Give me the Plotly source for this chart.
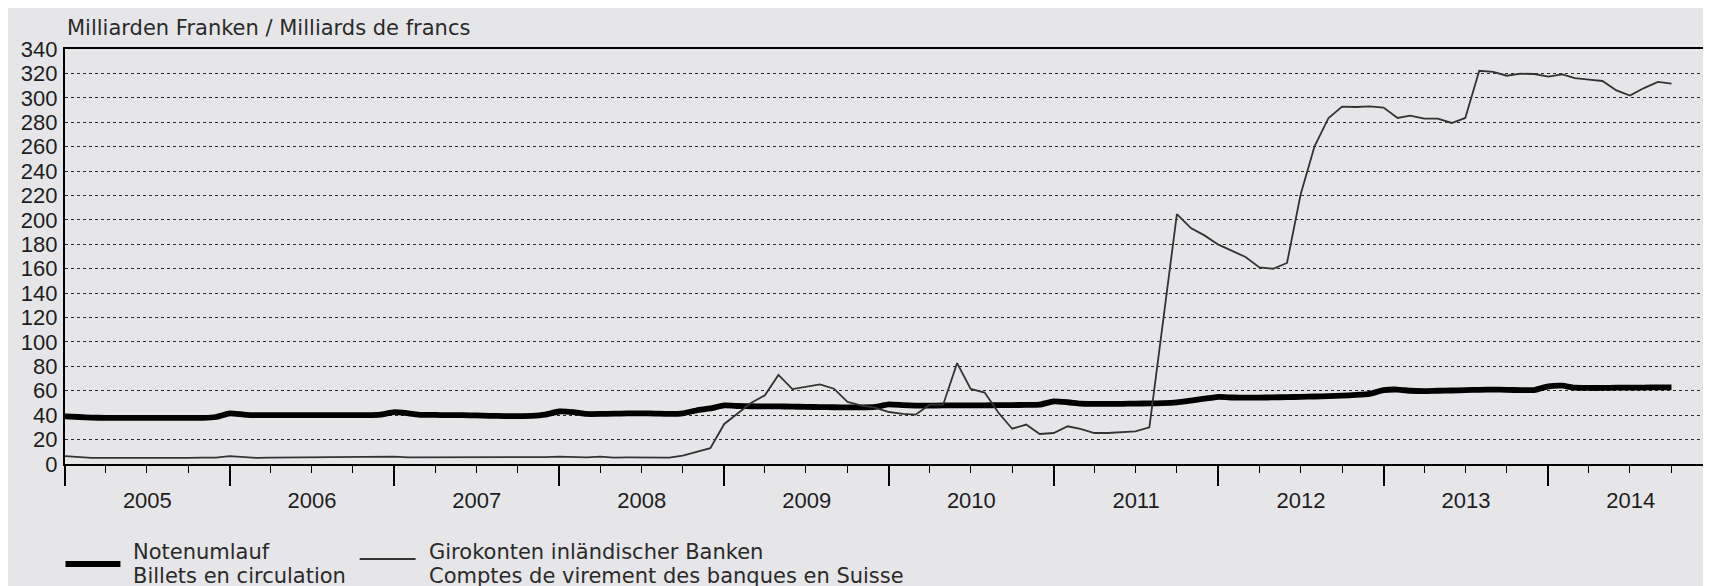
import pandas as pd
import plotly.graph_objects as go

# Monthly observations, Dec 2004 .. Sep 2014 (plotted at month end)
start_month = "2005-01-01"

notenumlauf = [
    39.0, 38.5, 38.0, 37.8, 37.8, 37.8, 37.8, 37.8, 37.8, 37.8, 37.8, 38.5,
    41.5, 40.5, 40.0, 40.0, 40.0, 40.0, 40.0, 40.0, 40.0, 40.0, 40.0, 40.5,
    42.5, 41.5, 40.3, 40.2, 40.0, 40.0, 39.8, 39.5, 39.3, 39.3, 39.5, 40.5,
    43.0, 42.5, 41.0, 41.0, 41.2, 41.4, 41.5, 41.3, 41.0, 41.5, 44.0, 45.5,
    48.0, 47.5, 47.3, 47.2, 47.2, 47.0, 46.8, 46.6, 46.5, 46.4, 46.4, 46.8,
    48.8, 48.2, 47.8, 47.8, 48.0, 48.1, 48.1, 48.1, 48.2, 48.3, 48.4, 48.6,
    51.3, 50.6, 49.5, 49.3, 49.2, 49.3, 49.5, 49.6, 49.8, 50.5, 52.0, 53.5,
    55.0, 54.5, 54.3, 54.4, 54.6, 54.8, 55.0, 55.3, 55.6, 56.0, 56.6, 57.5,
    60.5, 61.0, 60.0, 59.7, 60.0, 60.2, 60.5, 60.8, 61.0, 60.8, 60.5, 60.6,
    63.6, 64.2, 62.5, 62.3, 62.3, 62.5, 62.5, 62.6, 62.8, 62.8,
]

girokonten = [
    6.5, 5.5, 5.0, 5.0, 5.2, 5.0, 5.0, 4.8, 5.0, 5.0, 5.2, 5.3,
    6.5, 5.5, 5.0, 5.3, 5.4, 5.2, 5.0, 5.2, 5.5, 5.5, 5.8, 5.5,
    6.0, 5.5, 5.5, 5.8, 5.2, 5.4, 5.5, 5.3, 5.5, 5.2, 5.5, 5.6,
    6.0, 5.5, 5.5, 6.0, 5.2, 5.4, 5.5, 5.6, 5.3, 6.8, 9.8, 13.0,
    32.8, 42.0, 50.0, 56.3, 73.0, 61.4, 63.4, 65.3, 61.7, 50.8, 47.8, 46.1,
    42.6, 41.0, 40.4, 48.6, 48.6, 82.7, 61.5, 58.5, 41.8, 28.9, 32.3, 24.6,
    25.4, 30.9, 28.7, 25.4, 25.4, 26.0, 26.8, 30.0, 117.0, 204.8, 193.3, 187.3,
    179.7, 174.8, 169.6, 161.1, 160.0, 164.7, 220.6, 260.3, 283.5, 292.8, 292.5, 293.0,
    292.0, 283.5, 285.4, 282.9, 282.9, 279.4, 283.5, 322.2, 321.2, 318.1, 319.8, 319.5,
    317.3, 319.2, 316.2, 314.9, 313.8, 306.1, 301.8, 308.0, 313.0, 311.6,
]

x_dates = pd.date_range(start_month, periods=len(girokonten), freq="MS")

y_ticks = list(range(0, 341, 20))
x_range = ["2005-01-01", "2015-01-01"]

title_text = "Milliarden Franken / Milliards de francs"
legend_noten = ["Notenumlauf", "Billets en circulation"]
legend_giro = ["Girokonten inländischer Banken", "Comptes de virement des banques en Suisse"]

BG = "#E6E6E9"
INK = "#1E1E1E"
TXT = "#2a2a2a"
FONT = "Liberation Sans"
WFONT = "DejaVu Sans"

W, H = 1711, 586
ML, MR, MT, MB = 57, 4, 41, 130
PW, PH = W - ML - MR, H - MT - MB


def px(x):
    return (x - ML) / PW


def py(y):
    return (H - MB - y) / PH


fig = go.Figure()
fig.add_trace(go.Scatter(
    x=x_dates, y=notenumlauf, mode="lines", name="Notenumlauf",
    line=dict(color="#000000", width=5.8, shape="spline", smoothing=0.4),
    showlegend=False,
))
fig.add_trace(go.Scatter(
    x=x_dates, y=girokonten, mode="lines", name="Girokonten",
    line=dict(color="#333333", width=1.8),
    showlegend=False,
))

annotations = [dict(
    text=title_text, xref="paper", yref="paper", x=0, y=1.0,
    xanchor="left", yanchor="middle", yshift=21, showarrow=False,
    font=dict(size=21, color=TXT, family=WFONT),
)]
shapes = []

# legend (hand-laid like the original: sample line + two text lines)
legend_items = [
    (legend_noten, 57.5, 112.5, 123, 556, dict(color="#000000", width=5.8)),
    (legend_giro, 352, 408, 419, 551, dict(color="#333333", width=1.8)),
]
for lines, x0, x1, xt, yl, ln in legend_items:
    shapes.append(dict(type="line", xref="paper", yref="paper",
                       x0=px(x0), x1=px(x1), y0=py(yl), y1=py(yl), line=ln))
    for k, t in enumerate(lines):
        annotations.append(dict(
            text=t, xref="paper", yref="paper", x=px(xt), y=py(544 + 24 * k),
            xanchor="left", yanchor="middle", showarrow=False,
            font=dict(size=21, color=TXT, family=WFONT),
        ))

fig.update_layout(
    width=W, height=H,
    margin=dict(l=ML, r=MR, t=MT, b=MB),
    paper_bgcolor=BG, plot_bgcolor=BG,
    font=dict(family=FONT, color=INK, size=21),
    showlegend=False,
    annotations=annotations,
    shapes=shapes,
)

fig.update_xaxes(
    type="date", range=x_range,
    showline=True, linecolor="#000000", linewidth=2, mirror=True,
    showgrid=False, zeroline=False,
    ticks="outside", ticklen=20, tickwidth=1.5, tickcolor="#000000",
    dtick="M12", tick0="2005-01-01", tickformat="%Y", ticklabelmode="period",
    ticklabelstandoff=-4,
    tickfont=dict(size=22, color=INK),
    minor=dict(ticks="outside", ticklen=7, tickwidth=1.2, tickcolor="#000000",
               dtick="M3", tick0="2005-01-01", showgrid=False),
)
fig.update_yaxes(
    range=[0, 340], tickvals=y_ticks,
    showline=True, linecolor="#000000", linewidth=2.2, mirror=True,
    showgrid=True, gridcolor="#2a2a2a", gridwidth=1.3, griddash="dot",
    zeroline=False, ticks="", ticklabelstandoff=1,
    tickfont=dict(size=22, color=INK),
)

fig.write_html("out.html")
